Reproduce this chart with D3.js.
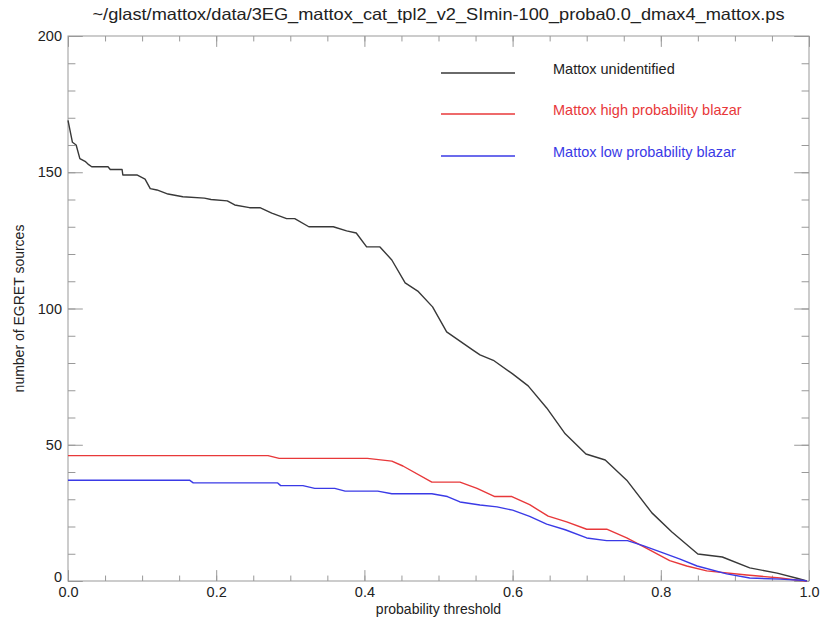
<!DOCTYPE html>
<html>
<head>
<meta charset="utf-8">
<script src="https://cdn.jsdelivr.net/npm/d3@7"></script>
<style>
  body { margin: 0; background: #fff; }
  text { font-family: "Liberation Sans", Arial, sans-serif; fill: #222; }
  .axis path { stroke: none; }
  .axis line { stroke: #999; }
  .serie { fill: none; stroke-width: 1.4; stroke-linejoin: round; }
</style>
</head>
<body>
<div class="mattox-chart"></div>
<script>
// valores
var titulo = "~/glast/mattox/data/3EG_mattox_cat_tpl2_v2_SImin-100_proba0.0_dmax4_mattox.ps";
var nombres = ["Mattox unidentified", "Mattox high probability blazar", "Mattox low probability blazar"];
var colores = ["#383838", "#e8383a", "#3a3ae6"];

var umbralNegro = [0, 0.006, 0.011, 0.016, 0.023, 0.027, 0.032, 0.054, 0.057, 0.073, 0.074, 0.093, 0.104, 0.111, 0.120, 0.135, 0.155, 0.184, 0.193, 0.215, 0.225, 0.245, 0.259, 0.275, 0.295, 0.306, 0.325, 0.358, 0.376, 0.389, 0.403, 0.421, 0.437, 0.455, 0.472, 0.492, 0.511, 0.546, 0.556, 0.574, 0.600, 0.621, 0.646, 0.671, 0.699, 0.725, 0.754, 0.788, 0.815, 0.850, 0.883, 0.920, 0.957, 0.985, 0.997];
var valorNegro  = [169, 161, 160, 155, 154, 153, 152, 152, 151, 151, 149, 149, 147.5, 144, 143.5, 142, 141, 140.5, 140, 139.5, 138, 137, 137, 135, 133, 133, 130, 130, 128.5, 127.7, 122.6, 122.6, 117.8, 109.4, 106.4, 100.6, 91.4, 84.8, 83, 81, 76, 71.6, 63.5, 54, 46.6, 44.4, 37, 25, 18, 9.9, 8.8, 4.8, 2.9, 0.9, 0];

var umbralRojo = [0, 0.270, 0.285, 0.404, 0.437, 0.452, 0.491, 0.529, 0.552, 0.576, 0.599, 0.623, 0.648, 0.673, 0.700, 0.727, 0.754, 0.781, 0.812, 0.835, 0.862, 0.916, 0.961, 0.985, 0.997];
var valorRojo  = [46, 46, 45, 45, 44, 42.2, 36.3, 36.3, 34, 31, 31, 28, 23.8, 21.7, 19, 19, 15.8, 12, 7.5, 5.5, 3.7, 2.2, 1.1, 0.3, 0];

var umbralAzul = [0, 0.164, 0.169, 0.283, 0.287, 0.317, 0.333, 0.360, 0.374, 0.418, 0.437, 0.491, 0.512, 0.529, 0.556, 0.579, 0.600, 0.623, 0.646, 0.671, 0.700, 0.727, 0.755, 0.776, 0.803, 0.826, 0.849, 0.889, 0.920, 0.961, 0.990, 0.997];
var valorAzul  = [37, 37, 36, 36, 35, 35, 34, 34, 33, 33, 32, 32, 31, 29, 27.9, 27.2, 26, 23.7, 20.9, 18.8, 15.8, 14.8, 14.8, 13, 10.3, 8, 5.5, 2.6, 1.1, 0.7, 0.3, 0];

var ticksX = [0, 0.2, 0.4, 0.6, 0.8, 1.0];
var ticksY = [0, 50, 100, 150, 200];

var margin = { top: 36, right: 25, bottom: 39, left: 68 },
    widthM = 834 - margin.left - margin.right,
    heightM = 620 - margin.top - margin.bottom;

var svg = d3.select('.mattox-chart')
    .append('svg')
    .attr("width", 834)
    .attr("height", 620);

var g = svg.append("g")
    .attr("transform", "translate(" + margin.left + "," + margin.top + ")");

var x = d3.scaleLinear()
    .domain([0, 1])
    .range([0, widthM]);

var y = d3.scaleLinear()
    .domain([0, 200])
    .range([heightM, 0]);

// ticks estilo IDL: hacia dentro, largo 2% del grafico
var largoX = heightM * 0.02, largoY = widthM * 0.02;
var menoresX = d3.range(0, 1.0001, 0.05);
var menoresY = d3.range(0, 200.1, 10);

function ejeMenor(eje, escala, valores, largo) {
    return eje(escala).tickValues(valores).tickSize(-largo).tickFormat("");
}

g.append("g").attr("class", "axis").attr("transform", "translate(0," + heightM + ")")
    .call(ejeMenor(d3.axisBottom, x, menoresX, largoX / 2));
g.append("g").attr("class", "axis")
    .call(ejeMenor(d3.axisTop, x, menoresX, largoX / 2));
g.append("g").attr("class", "axis")
    .call(ejeMenor(d3.axisLeft, y, menoresY, largoY / 2));
g.append("g").attr("class", "axis").attr("transform", "translate(" + widthM + ",0)")
    .call(ejeMenor(d3.axisRight, y, menoresY, largoY / 2));

var xAxis = d3.axisBottom(x)
    .tickValues(ticksX)
    .tickSize(-largoX)
    .tickPadding(6)
    .tickFormat(d3.format(".1f"));

var yAxis = d3.axisLeft(y)
    .tickValues(ticksY)
    .tickSize(-largoY)
    .tickPadding(6)
    .tickFormat(d3.format("d"));

g.append("g").attr("class", "axis x").attr("transform", "translate(0," + heightM + ")").call(xAxis);
g.append("g").attr("class", "axis y").call(yAxis);
g.append("g").attr("class", "axis")
    .call(d3.axisTop(x).tickValues(ticksX).tickSize(-largoX).tickFormat(""));
g.append("g").attr("class", "axis").attr("transform", "translate(" + widthM + ",0)")
    .call(d3.axisRight(y).tickValues(ticksY).tickSize(-largoY).tickFormat(""));

g.selectAll(".axis text")
    .style("font-size", "14.5px")
    .style("fill", "#222");

// el 0 del eje y queda un poco por encima, como en el original
g.selectAll(".axis.y .tick text")
    .filter(function(d) { return d === 0; })
    .attr("dy", "0.05em");

// marco
g.append("rect")
    .attr("width", widthM)
    .attr("height", heightM)
    .attr("fill", "none")
    .attr("stroke", "#999")
    .attr("stroke-width", 1);

var linea = d3.line()
    .x(function(d) { return x(d[0]); })
    .y(function(d) { return y(d[1]); });

var series = [
    d3.zip(umbralNegro, valorNegro),
    d3.zip(umbralRojo, valorRojo),
    d3.zip(umbralAzul, valorAzul)
];

series.forEach(function(s, i) {
    g.append("path")
        .datum(s)
        .attr("class", "serie")
        .attr("stroke", colores[i])
        .attr("d", linea);
});

// leyenda
var legY = [73, 114, 156];
nombres.forEach(function(n, i) {
    svg.append("line")
        .attr("x1", 441).attr("x2", 515)
        .attr("y1", legY[i]).attr("y2", legY[i])
        .attr("stroke", colores[i])
        .attr("stroke-width", 1.4);
    svg.append("text")
        .attr("x", 553)
        .attr("y", legY[i] + 1)
        .style("font-size", "14.5px")
        .style("fill", i === 0 ? "#222" : colores[i])
        .text(n);
});

// titulo y etiquetas
svg.append("text")
    .attr("x", margin.left + widthM / 2)
    .attr("y", 20)
    .attr("text-anchor", "middle")
    .attr("textLength", 692)
    .attr("lengthAdjust", "spacingAndGlyphs")
    .style("font-size", "16.5px")
    .text(titulo);

svg.append("text")
    .attr("x", margin.left + widthM / 2)
    .attr("y", 614)
    .attr("text-anchor", "middle")
    .style("font-size", "14px")
    .text("probability threshold");

svg.append("text")
    .attr("transform", "translate(24," + (margin.top + heightM / 2) + ") rotate(-90)")
    .attr("text-anchor", "middle")
    .style("font-size", "14px")
    .text("number of EGRET sources");
</script>
</body>
</html>
